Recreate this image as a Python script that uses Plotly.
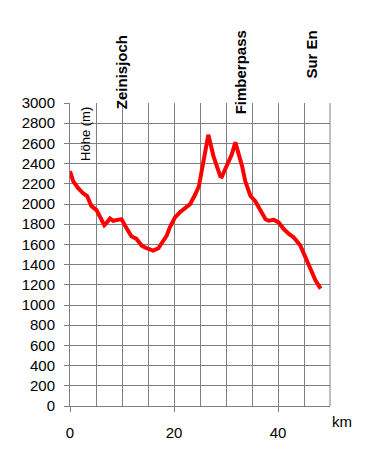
import plotly.graph_objects as go

km = [0, 0.6, 1.5, 2.5, 3.3, 4.1, 5.1, 5.7, 6.6, 7.0, 7.7, 8.3, 9.6, 9.9, 10.6, 11.2, 11.8, 12.8,
      13.8, 14.7, 16.0, 17.0, 17.9, 18.6, 19.2, 20.2, 21.2, 22.1, 23.1, 24.1, 24.8, 25.2, 25.7,
      26.6, 27.6, 28.5, 28.9, 29.2, 29.8, 30.5, 31.1, 31.8, 32.4, 33.1, 33.7, 34.7, 35.6, 36.6,
      37.6, 38.2, 39.2, 40.1, 41.1, 42.1, 43.0, 44.3, 45.0, 45.9, 47.2, 48.2]
elev = [2325, 2227, 2162, 2106, 2079, 1981, 1939, 1883, 1791, 1811, 1857, 1834, 1840, 1850, 1785,
        1735, 1680, 1654, 1588, 1562, 1539, 1562, 1637, 1686, 1769, 1867, 1922, 1955, 1998, 2096,
        2178, 2292, 2423, 2685, 2472, 2325, 2276, 2270, 2341, 2407, 2489, 2610, 2506, 2374, 2227,
        2079, 2030, 1949, 1850, 1834, 1843, 1818, 1752, 1703, 1670, 1588, 1506, 1391, 1244, 1162]

places = ["Zeinisjoch", "Fimberpass", "Sur En"]
place_km = [9.9, 32.8, 46.5]
place_top = [1.232, 1.245, 1.245]

FONT = "Liberation Sans, Arial, sans-serif"
GRID = "#808080"

fig = go.Figure()
fig.add_trace(go.Scatter(x=km, y=elev, mode="lines",
                         line=dict(color="#ff0000", width=4), hoverinfo="skip"))

for name, xk, yt in zip(places, place_km, place_top):
    fig.add_annotation(x=xk, xref="x", y=yt, yref="paper", text="<b>%s</b>" % name,
                       textangle=-90, showarrow=False, xanchor="center", yanchor="top",
                       font=dict(family=FONT, size=15, color="black"))

fig.add_annotation(x=0.057, xref="paper", y=0.993, yref="paper", text="Höhe (m)",
                   textangle=-90, showarrow=False, xanchor="center", yanchor="top",
                   font=dict(family=FONT, size=13, color="black"))
fig.add_annotation(x=1.048, xref="paper", y=-0.051, yref="paper", text="km",
                   showarrow=False, xanchor="center", yanchor="middle",
                   font=dict(family=FONT, size=15, color="black"))

fig.update_layout(
    width=375, height=453,
    margin=dict(l=70, r=45, t=103, b=45),
    paper_bgcolor="white", plot_bgcolor="white",
    showlegend=False,
    font=dict(family=FONT, size=15, color="black"),
    xaxis=dict(range=[0, 50], tickvals=[0, 20, 40], ticks="outside", ticklen=5,
               tickcolor=GRID, showgrid=True, gridcolor=GRID, gridwidth=1,
               minor=dict(dtick=5, tick0=0, showgrid=True, gridcolor=GRID, gridwidth=1),
               showline=True, linecolor=GRID, linewidth=1, mirror=False,
               zeroline=False, ticklabelstandoff=8, fixedrange=True),
    yaxis=dict(range=[0, 3000], dtick=200, ticks="outside", ticklen=5,
               tickcolor=GRID, showgrid=True, gridcolor=GRID, gridwidth=1,
               showline=True, linecolor=GRID, linewidth=1,
               zeroline=False, ticklabelstandoff=6, fixedrange=True),
)
fig.add_shape(type="line", xref="paper", yref="paper", x0=1, x1=1, y0=0, y1=1,
              line=dict(color=GRID, width=1))

fig.write_html("out.html", config={"displayModeBar": False})
